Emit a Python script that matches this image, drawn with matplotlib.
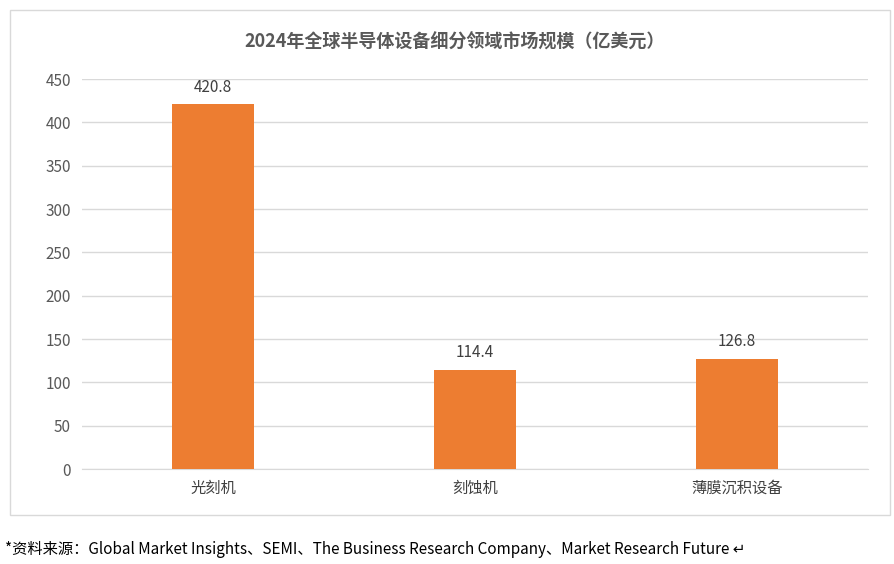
import matplotlib
matplotlib.use("Agg")
import matplotlib.pyplot as plt
from matplotlib.patches import Rectangle

plt.rcParams['font.family'] = ['Noto Sans CJK SC', 'DejaVu Sans']

categories = ["光刻机", "刻蚀机", "薄膜沉积设备"]
values = [420.8, 114.4, 126.8]
yticks = [0, 50, 100, 150, 200, 250, 300, 350, 400, 450]

fig = plt.figure(figsize=(8.94, 5.64), dpi=100)
fig.patches.append(Rectangle((10/894, 1-515/564), 880/894, 505/564, transform=fig.transFigure,
                             fill=False, edgecolor='#d9d9d9', lw=1))
ax = fig.add_axes([82/894, 1-469/564, 786/894, 390/564])
bars = ax.bar(range(len(categories)), values, width=0.31, color='#ED7D31', zorder=3)
for i, v in enumerate(values):
    ax.text(i, v + 10, f"{v:.1f}", ha='center', va='bottom', fontsize=11, color='#404040')
ax.set_xlim(-0.5, 2.5)
ax.set_ylim(0, 450)
ax.set_yticks(yticks)
ax.set_yticklabels([str(t) for t in yticks], fontsize=11, color='#595959')
ax.set_xticks(range(len(categories)))
ax.set_xticklabels(categories, fontsize=11, color='#404040')
ax.tick_params(length=0, pad=8)
ax.yaxis.grid(True, color='#d9d9d9', lw=1, zorder=0)
for s in ['top', 'right', 'left']:
    ax.spines[s].set_visible(False)
ax.spines['bottom'].set_color('#d9d9d9')
fig.text(455/894, 1-42/564, "2024年全球半导体设备细分领域市场规模（亿美元）", ha='center', va='center',
         fontsize=13, fontweight='bold', color='#595959')
fig.text(5/894, 1-549/564, "*资料来源：Global Market Insights、SEMI、The Business Research Company、Market Research Future ↵",
         ha='left', va='center', fontsize=11, color='#000000')
fig.savefig("out.png", dpi=100)
